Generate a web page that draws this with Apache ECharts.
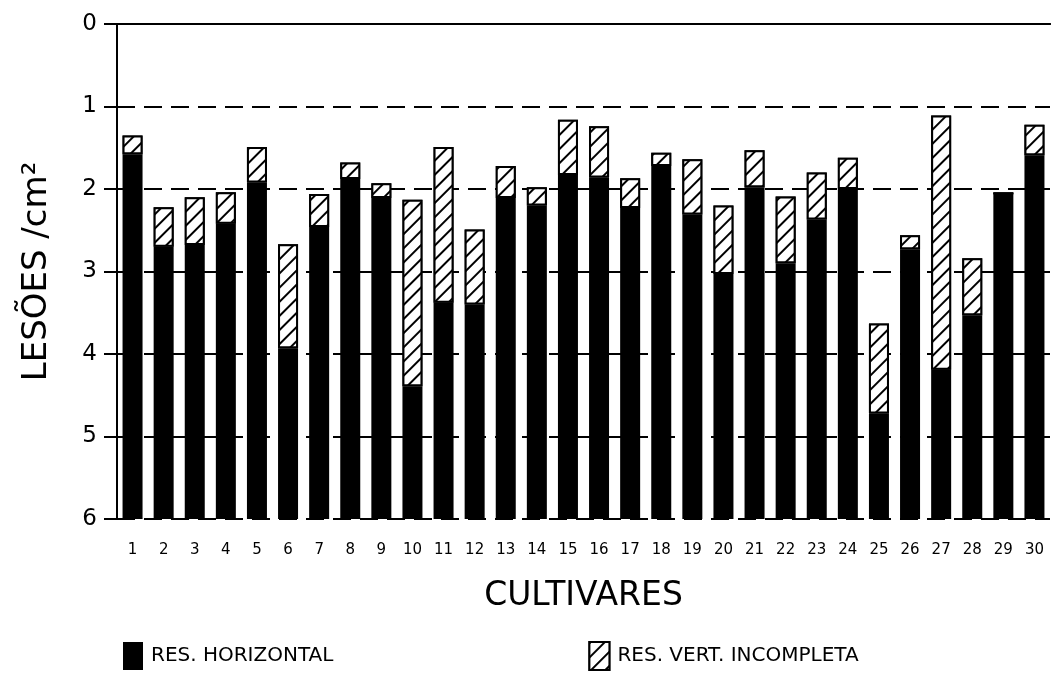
<!DOCTYPE html>
<html>
<head>
<meta charset="utf-8">
<title>Lesões por cm² em cultivares</title>
<script src="https://cdn.jsdelivr.net/npm/echarts@6/dist/echarts.min.js"></script>
<style>
  html, body { margin: 0; padding: 0; background: #fff; }
  #chart { width: 1053px; height: 679px; }
</style>
</head>
<body>
<div id="chart"></div>
<script>
// Cultivar numbers along the x axis
const categories = ['1','2','3','4','5','6','7','8','9','10','11','12','13','14','15',
                    '16','17','18','19','20','21','22','23','24','25','26','27','28','29','30'];

// Lesions / cm² : level reached with horizontal resistance (black bar top)
const horizontal = [1.58, 2.70, 2.68, 2.42, 1.92, 3.93, 2.46, 1.88, 2.11, 4.39,
                    3.38, 3.40, 2.11, 2.20, 1.83, 1.86, 2.23, 1.72, 2.31, 3.03,
                    1.98, 2.90, 2.37, 2.00, 4.72, 2.73, 4.19, 3.53, 2.05, 1.59];

// Lesions / cm² : level reached with incomplete vertical resistance (hatched bar top)
const vertIncompleta = [1.35, 2.22, 2.10, 2.04, 1.49, 2.67, 2.06, 1.68, 1.93, 2.13,
                        1.49, 2.49, 1.72, 1.98, 1.16, 1.24, 1.87, 1.56, 1.64, 2.20,
                        1.53, 2.09, 1.80, 1.62, 3.63, 2.56, 1.11, 2.84, 2.05, 1.22];

// Y axis range (axis is inverted: 0 at top, 6 at bottom)
const yMin = 0, yMax = 6, yStep = 1;

const nameHorizontal = 'RES. HORIZONTAL';
const nameVertical = 'RES. VERT. INCOMPLETA';

// Stacked from the top of the inverted axis: invisible spacer, hatched part, black part down to 6
const spacer = vertIncompleta.slice();
const hatchedPart = vertIncompleta.map((v, i) => +(horizontal[i] - v).toFixed(3));
const blackPart = horizontal.map(v => +(yMax - v).toFixed(3));

// Diagonal "/" hatching
const hatchDecal = {
  symbol: 'rect',
  symbolSize: 1,
  color: '#000',
  backgroundColor: '#fff',
  dashArrayX: [1, 0],
  dashArrayY: [2, 8],
  rotation: -Math.PI / 4
};

const FONT = 'DejaVu Sans';

const chart = echarts.init(document.getElementById('chart'), null, { renderer: 'canvas' });

chart.setOption({
  animation: false,
  backgroundColor: '#fff',
  textStyle: { fontFamily: FONT, color: '#000' },
  grid: { left: 117, right: 3, top: 24, bottom: 160, containLabel: false },
  legend: {
    data: [nameHorizontal, nameVertical],
    icon: 'rect',
    left: 123,
    top: 641,
    padding: 0,
    itemWidth: 20,
    itemHeight: 28,
    itemGap: 255,
    selectedMode: false,
    textStyle: { fontFamily: FONT, fontSize: 20, color: '#000', padding: [0, 0, 0, 3] }
  },
  xAxis: [{
    type: 'category',
    data: categories,
    position: 'bottom',
    axisLine: { lineStyle: { color: '#000', width: 2 } },
    axisTick: { alignWithLabel: true, length: 12, inside: false, lineStyle: { color: '#000', width: 2 } },
    axisLabel: { margin: 24, fontSize: 15, color: '#000', fontFamily: FONT, interval: 0 },
    name: 'CULTIVARES',
    nameLocation: 'middle',
    nameGap: 61,
    nameTextStyle: { fontSize: 33, color: '#000', fontFamily: FONT, verticalAlign: 'top' }
  }, {
    type: 'category',
    data: categories,
    position: 'top',
    axisLine: { lineStyle: { color: '#000', width: 2 } },
    axisTick: { show: false },
    axisLabel: { show: false }
  }],
  yAxis: {
    type: 'value',
    inverse: true,
    min: yMin,
    max: yMax,
    interval: yStep,
    axisLine: { show: true, lineStyle: { color: '#000', width: 2 } },
    axisTick: { show: true, length: 13, lineStyle: { color: '#000', width: 2 } },
    axisLabel: { margin: 20, fontSize: 23, color: '#000', fontFamily: FONT },
    splitLine: { show: true, lineStyle: { color: '#000', width: 2, type: [18, 9] } },
    name: 'LESÕES /cm²',
    nameLocation: 'middle',
    nameGap: 63,
    nameRotate: 90,
    nameTextStyle: { fontSize: 34, color: '#000', fontFamily: FONT }
  },
  series: [{
    name: 'spacer',
    type: 'bar',
    stack: 'lesoes',
    data: spacer,
    barWidth: 20,
    itemStyle: { color: 'rgba(0,0,0,0)' },
    emphasis: { disabled: true },
    silent: true
  }, {
    name: nameVertical,
    type: 'bar',
    stack: 'lesoes',
    data: hatchedPart,
    barWidth: 20,
    itemStyle: { color: '#fff', borderColor: '#000', borderWidth: 2, decal: hatchDecal }
  }, {
    name: nameHorizontal,
    type: 'bar',
    stack: 'lesoes',
    data: blackPart,
    barWidth: 20,
    itemStyle: { color: '#000', borderColor: '#000', borderWidth: 0 }
  }]
});
</script>
</body>
</html>
